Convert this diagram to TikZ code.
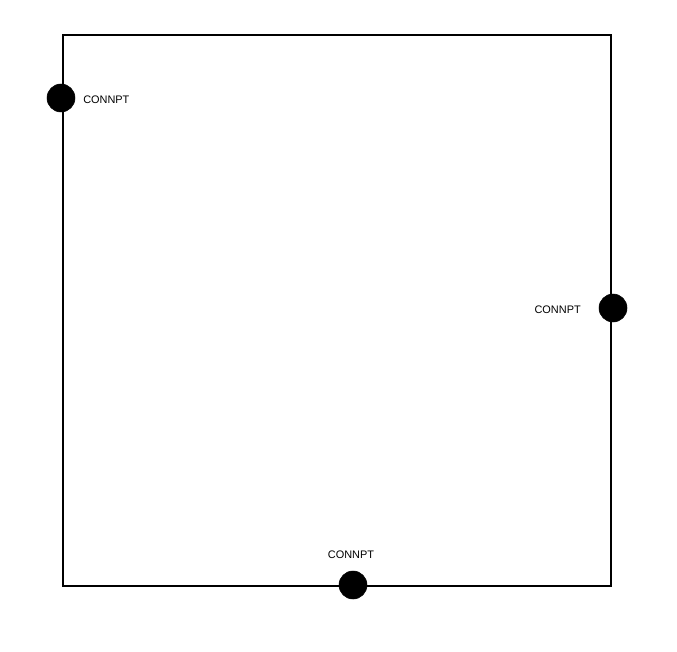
\documentclass[tikz,border=0pt]{standalone}
\usepackage{fontspec}
\setmainfont{Liberation Sans}
\usetikzlibrary{positioning}

\begin{document}
\begin{tikzpicture}[x=0.75pt,y=-0.75pt,
  pt/.style={circle,fill=black,draw=black,minimum size=21pt,inner sep=0pt},
  lbl/.style={font=\fontsize{8.2}{10}\selectfont,inner sep=0pt}]
  \useasboundingbox (0,0) rectangle (677,652);
  % \draw[help lines] (0,0) grid (677,652);
  \draw[line width=1.5pt] (63,35) rectangle (611,586);
  \node[pt] (p1) at (61,98)   {};
  \node[pt] (p2) at (613,308) {};
  \node[pt] (p3) at (353,585) {};
  \node[lbl,anchor=west]  (l1) at (83,100)  {CONNPT};
  \node[lbl,anchor=east]  (l2) at (581,310) {CONNPT};
  \node[lbl,anchor=south] (l3) at (351,559) {CONNPT};
\end{tikzpicture}
\end{document}
